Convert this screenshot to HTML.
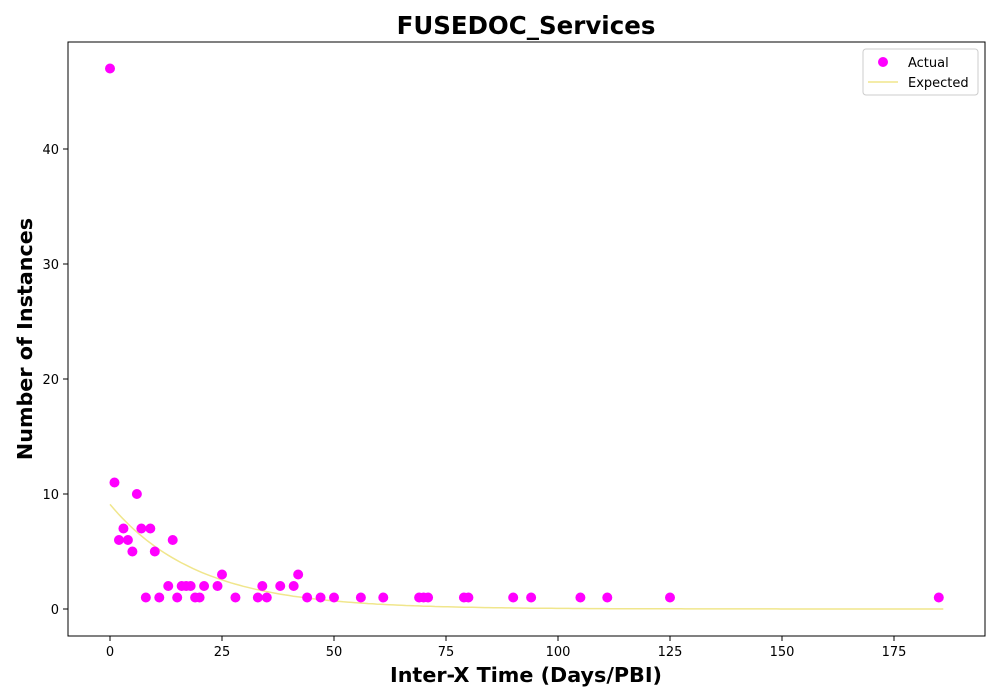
<!DOCTYPE html>
<html><head><meta charset="utf-8"><style>
body{margin:0;background:#fff;}
svg{display:block;font-family:"DejaVu Sans","Liberation Sans",sans-serif;}
</style></head><body>
<svg id="chart" width="1000" height="700">
<rect width="1000" height="700" fill="#fff"/>
<text x="526" y="34" text-anchor="middle" font-size="24.5" font-weight="bold">FUSEDOC_Services</text>
<g id="ticks"></g>
<g id="curve"></g>
<g id="pts"></g>
<rect x="68" y="42" width="917" height="594" fill="none" stroke="#000" stroke-width="1"/>
<text x="526" y="682" text-anchor="middle" font-size="20.7" font-weight="bold">Inter-X Time (Days/PBI)</text>
<text transform="translate(32,339) rotate(-90)" text-anchor="middle" font-size="20.7" font-weight="bold">Number of Instances</text>
<g>
<rect x="863" y="49" width="115" height="46" rx="3" fill="#fff" stroke="#ccc"/>
<circle cx="883" cy="62" r="5" fill="#ff00ff"/>
<text x="908" y="67" font-size="13">Actual</text>
<line x1="868" y1="82" x2="898" y2="82" stroke="#f0e68c" stroke-width="1.5"/>
<text x="908" y="87" font-size="13">Expected</text>
</g>
</svg>
<script>
const xValues=[0,1,2,3,4,5,6,7,8,9,10,11,13,14,15,16,17,18,19,20,21,24,25,28,33,34,35,38,41,42,44,47,50,56,61,69,70,71,79,80,90,94,105,111,125,185];
const yValues=[47,11,6,7,6,5,10,7,1,7,5,1,2,6,1,2,2,2,1,1,2,2,3,1,1,2,1,2,2,3,1,1,1,1,1,1,1,1,1,1,1,1,1,1,1,1];
const xTicks=[0,25,50,75,100,125,150,175];
const yTicks=[0,10,20,30,40];
const expA=9.1, expRate=1/19.5, expMax=186;
const X=v=>110+v*4.48, Y=v=>609-v*11.5;
const NS="http://www.w3.org/2000/svg";
function mk(t,a,p){const e=document.createElementNS(NS,t);for(const k in a)e.setAttribute(k,a[k]);p.appendChild(e);return e;}
const tg=document.getElementById('ticks');
xTicks.forEach(v=>{
 const l=mk('line',{x1:X(v),x2:X(v),y1:636,y2:641,stroke:'#000'},tg);
 
 
 const t=mk('text',{x:X(v),y:656,'text-anchor':'middle','font-size':13},tg);t.textContent=v;
 
 
});
yTicks.forEach(v=>{
 const l=mk('line',{x1:63,x2:68,y1:Y(v),y2:Y(v),stroke:'#000'},tg);
 
 
 const t=mk('text',{x:59,y:Y(v)+5,'text-anchor':'end','font-size':13},tg);t.textContent=v;
 
 
});
let d='';for(let i=0;i<=200;i++){const x=expMax*i/200;d+=(i?'L':'M')+X(x).toFixed(1)+','+Y(expA*Math.exp(-expRate*x)).toFixed(1);}
const c=mk('path',{d:d,fill:'none',stroke:'#f0e68c','stroke-width':1.5},document.getElementById('curve'));


const pg=document.getElementById('pts');
xValues.forEach((x,i)=>{
 const p=mk('circle',{cx:X(x),cy:Y(yValues[i]),r:5,fill:'#ff00ff'},pg);
 
 
});
</script>
</body></html>
